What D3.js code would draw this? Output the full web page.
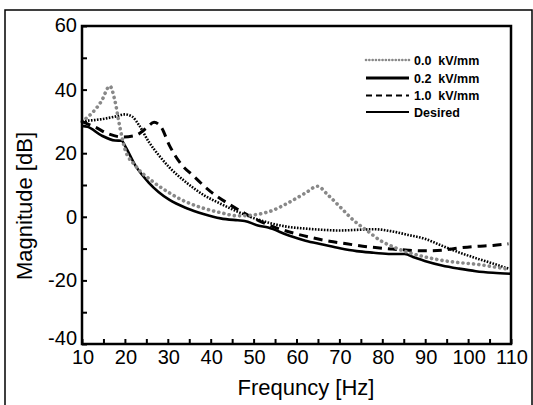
<!DOCTYPE html>
<html><head><meta charset="utf-8">
<script src="https://cdn.jsdelivr.net/npm/d3@7"></script>
<style>body{margin:0;background:#fff}svg{display:block}text{font-family:"Liberation Sans",Arial,sans-serif}</style>
</head><body><svg id="c" width="533" height="405"></svg>
<script>
const seriesNames = ["0.0  kV/mm", "0.2  kV/mm", "1.0  kV/mm", "Desired"];
const xTicks = [10,20,30,40,50,60,70,80,90,100,110];
const yTicks = [-40,-20,0,20,40,60];

const f00 = [10,14.5,16.5,17.7,18.9,20,22.5,26.4,30.4,34.4,38.3,42.3,46.3,49.4,54.2,58.2,62.1,64.9,67.3,70.1,73.3,76.4,79.6,82.8,86,89.9,93.9,97.9,101.8,105.8,109.4];
const v00 = [29.9,36.3,41.1,36.3,27.7,21.3,16,11.2,7.5,4.6,2.7,1.3,0.3,0.5,1.9,4.5,7.5,9.6,6.9,3.2,-1.1,-4.3,-7.5,-9.6,-11.2,-12.6,-13.7,-14.4,-14.9,-15.7,-16.5];

const f02 = [10,14.5,17.7,20,21.7,23.3,25.6,28,30.4,34.4,38.3,42.3,46.3,50.2,54.2,58.2,62.1,66.1,70.1,74,78,82,86,89.9,93.9,97.9,101.8,105.8,109.4];
const v02 = [30.1,30.7,31.5,32.2,31.5,28.8,23.5,19.2,15.5,10.7,6.9,4.1,1.6,-0.5,-2.1,-3.2,-3.7,-4.1,-4.3,-4.1,-3.9,-4.5,-5.7,-6.9,-9.1,-11.2,-13,-14.7,-16.3];

const f10 = [10,12.9,16.1,19.3,22.5,24.8,26.8,28.4,30.4,32.8,36,39.9,43.9,47.9,51.8,55.8,59.8,63.7,67.7,71.7,76.4,82,86,89.9,93.9,97.9,101.8,105.8,109.4];
const v10 = [29.9,28.3,26.1,25.1,25.6,27.7,29.7,28.3,22.4,17.1,12.8,8,4.3,1.1,-1.6,-3.7,-5.3,-6.6,-7.7,-8.5,-9.4,-10.1,-10.5,-10.7,-10.5,-9.8,-9.3,-9,-8.5];

const fDes = [10,11.3,14.5,17.7,19.3,20,22.5,25.6,30.4,34.4,38.3,42.3,46.3,47.9,51,53.4,58.2,62.1,66.1,70.1,74,78,82,85.2,87.5,89.9,93.9,97.9,101.8,105.8,109.8];
const vDes = [28.6,28.3,25.6,24,23.9,22.4,16,10.7,5.3,2.7,0.9,-0.5,-1.1,-1.3,-2.7,-3.4,-5.9,-7.5,-8.7,-9.9,-10.8,-11.3,-11.7,-11.7,-12.8,-13.9,-15.3,-16.3,-17.1,-17.6,-17.9];

const svg = d3.select("#c");
const L=82, R=511, T=26, B=344;
const x = d3.scaleLinear().domain([10,110]).range([L,R]);
const y = d3.scaleLinear().domain([-40,60]).range([B,T]);

// outer frame
svg.append("rect").attr("x",5).attr("y",10).attr("width",527).attr("height",410)
  .attr("fill","none").attr("stroke","#000").attr("stroke-width",1.5);

const styles = [
  {stroke:"#888", width:3.6, dash:"0.1 5.2", cap:"round", lw:2.6, ldash:"0.1 3.2"},
  {stroke:"#000", width:2.6, dash:"1.6 1.4", cap:"butt", lw:3.2, ldash:null},
  {stroke:"#000", width:3, dash:"9 6", cap:"butt", lw:2.2, ldash:"6 4"},
  {stroke:"#000", width:2.6, dash:null, cap:"butt", lw:2.2, ldash:null}
];
const data = [[f00,v00],[f02,v02],[f10,v10],[fDes,vDes]];
const line = d3.line().x(d=>x(d[0])).y(d=>y(d[1])).curve(d3.curveMonotoneX);

[3,2,1,0].forEach(i=>{
  const [fs,vs]=data[i];
  const pts=fs.map((f,k)=>[f,vs[k]]);
  const s=styles[i];
  const p=svg.append("path").datum(pts).attr("d",line).attr("fill","none")
    .attr("stroke",s.stroke).attr("stroke-width",s.width).attr("stroke-linecap",s.cap)
    .attr("stroke-linejoin","round");
  if(s.dash) p.attr("stroke-dasharray",s.dash);
});

// axes (inward ticks)
const xAxis = d3.axisBottom(x).tickValues(d3.range(10,111,5)).tickSize(-5).tickFormat("");
const yAxis = d3.axisLeft(y).tickValues(d3.range(-40,61,10)).tickSize(-5).tickFormat("");
const gx = svg.append("g").attr("transform",`translate(0,${B})`).call(xAxis);
const gy = svg.append("g").attr("transform",`translate(${L},0)`).call(yAxis);
[gx,gy].forEach(g=>{g.select(".domain").remove();g.selectAll("line").attr("stroke","#000").attr("stroke-width",2);});

svg.append("rect").attr("x",L).attr("y",T).attr("width",R-L).attr("height",B-T)
  .attr("fill","none").attr("stroke","#000").attr("stroke-width",2.5);

// tick labels
svg.append("g").selectAll("text").data(xTicks).join("text")
  .attr("x",d=>x(d)+1).attr("y",364).attr("text-anchor","middle")
  .attr("font-size",20).text(d=>d);
svg.append("g").selectAll("text").data(yTicks).join("text")
  .attr("x",77).attr("y",d=>y(d) + (d===-40 ? -6 : (d===60 ? -1 : 0))).attr("dy","0.35em").attr("text-anchor","end")
  .attr("font-size",20).text(d=>d);

svg.append("text").attr("x",306).attr("y",395).attr("text-anchor","middle")
  .attr("font-size",22).text("Frequncy [Hz]");
svg.append("text").attr("transform","translate(32,206) rotate(-90)").attr("text-anchor","middle")
  .attr("font-size",22).text("Magnitude [dB]");

// legend
const lg = svg.append("g");
const rowsY=[60,78,95.5,112];
seriesNames.forEach((n,i)=>{
  const s=styles[i];
  const l=lg.append("line").attr("x1",366).attr("x2",409).attr("y1",rowsY[i]).attr("y2",rowsY[i])
    .attr("stroke",s.stroke).attr("stroke-width",s.lw).attr("stroke-linecap",s.cap);
  if(s.ldash) l.attr("stroke-dasharray",s.ldash);
  lg.append("text").attr("x",414).attr("y",rowsY[i]).attr("dy","0.36em")
    .attr("font-size",12.5).attr("font-weight","bold").style("white-space","pre").text(n);
});
</script></body></html>
